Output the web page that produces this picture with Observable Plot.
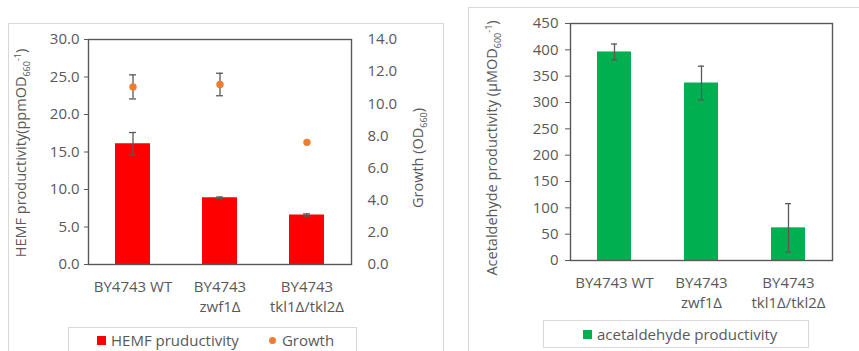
<!DOCTYPE html>
<html><head><meta charset="utf-8">
<script src="https://cdn.jsdelivr.net/npm/d3@7"></script>
<script src="https://cdn.jsdelivr.net/npm/@observablehq/plot@0.6"></script>
<style>
body{margin:0;background:#fff;font-family:"Open Sans",sans-serif;color:#595959;}
#wrap{position:relative;width:859px;height:351px;overflow:hidden;background:#fff;}
.panel{position:absolute;border:1px solid #d9d9d9;box-sizing:border-box;}
.chart{position:absolute;}
.ytitle{position:absolute;transform:translate(-50%,-50%) rotate(-90deg);white-space:nowrap;font-size:14.5px;color:#595959;}
.ytitle sub,.ytitle sup{font-size:9px;}
.legend{position:absolute;border:1px solid #d9d9d9;box-sizing:border-box;font-size:15px;color:#595959;display:flex;align-items:center;}
.sw{display:inline-block;width:9px;height:9px;margin-right:5px;}
.dot{display:inline-block;width:7px;height:7px;border-radius:50%;margin-right:6px;}
</style></head><body>
<div id="wrap">
  <div class="panel" style="left:8px;top:23px;width:436px;height:340px;"></div>
  <div class="panel" style="left:468px;top:7px;width:400px;height:360px;"></div>
  <div id="left" class="chart" style="left:8px;top:23px;"></div>
  <div id="right" class="chart" style="left:468px;top:7px;"></div>
  <div class="ytitle" style="left:22px;top:153px;">HEMF productivity(ppmOD<sub>660</sub><sup>-1</sup>)</div>
  <div class="ytitle" style="left:419px;top:158px;">Growth (OD<sub>660</sub>)</div>
  <div class="ytitle" style="left:493px;top:148px;">Acetaldehyde productivity (µMOD<sub>600</sub><sup>-1</sup>)</div>
  <div class="legend" style="left:68px;top:327px;width:289px;height:40px;align-items:flex-start;padding-top:2px;">
    <span style="margin-left:28px;display:flex;align-items:center;"><span class="sw" style="background:#ff0000"></span>HEMF pruductivity</span>
    <span style="margin-left:30px;display:flex;align-items:center;"><span class="dot" style="background:#ed7d31"></span>Growth</span>
  </div>
  <div class="legend" style="left:543px;top:320px;width:266px;height:28px;">
    <span style="margin-left:39px;display:flex;align-items:center;"><span class="sw" style="background:#00b050"></span>acetaldehyde productivity</span>
  </div>
</div>
<script>
const strains = ["BY4743 WT", "BY4743 zwf1Δ", "BY4743 tkl1Δ/tkl2Δ"];
const strainLabels = ["BY4743 WT", "BY4743\nzwf1Δ", "BY4743\ntkl1Δ/tkl2Δ"];
const hemf = [16.1, 8.9, 6.6];
const hemfErr = [1.5, 0.1, 0.15];
const growth = [11.05, 11.2, 7.6];
const growthErr = [0.75, 0.7, 0];
const acet = [396, 337, 62];
const acetErr = [15, 32, 46];
const hemfTicks = [0, 5, 10, 15, 20, 25, 30];
const growthTicks = [0, 2, 4, 6, 8, 10, 12, 14];
const acetTicks = [0, 50, 100, 150, 200, 250, 300, 350, 400, 450];

const GRAY = "#595959";
const FONT = "'Open Sans', sans-serif";
const FS = 15;
const HEMF_MAX = 30, GROWTH_MAX = 14;
const gScale = HEMF_MAX / GROWTH_MAX;
const lab = d => strainLabels[strains.indexOf(d)];

const leftData = strains.map((s, i) => ({s, v: hemf[i], e: hemfErr[i], g: growth[i] * gScale, ge: growthErr[i] * gScale}));
const rightData = strains.map((s, i) => ({s, v: acet[i], e: acetErr[i]}));

function capInset(width, ml, mr) {
  const step = (width - ml - mr) / 3;
  const bw = step * 0.4;
  return (bw - 7) / 2;
}

const LW = 435, LH = 328, LML = 80, LMR = 92;
const lInset = capInset(LW, LML, LMR);
const left = Plot.plot({
  width: LW, height: LH,
  marginLeft: LML, marginRight: LMR, marginTop: 16, marginBottom: 87,
  style: {fontFamily: FONT, fontSize: FS + "px", color: GRAY, background: "transparent"},
  x: {domain: strains, paddingInner: 0.6, paddingOuter: 0.3, axis: null},
  y: {domain: [0, HEMF_MAX], axis: null},
  marks: [
    Plot.barY(leftData, {x: "s", y: "v", fill: "#ff0000"}),
    Plot.ruleX(leftData, {x: "s", y1: d => d.v - d.e, y2: d => d.v + d.e, stroke: GRAY, strokeWidth: 1.3}),
    Plot.tickY(leftData, {x: "s", y: d => d.v - d.e, stroke: GRAY, strokeWidth: 1.3, insetLeft: lInset, insetRight: lInset}),
    Plot.tickY(leftData, {x: "s", y: d => d.v + d.e, stroke: GRAY, strokeWidth: 1.3, insetLeft: lInset, insetRight: lInset}),
    Plot.ruleX(leftData.filter(d => d.ge > 0), {x: "s", y1: d => d.g - d.ge, y2: d => d.g + d.ge, stroke: GRAY, strokeWidth: 1.3}),
    Plot.tickY(leftData.filter(d => d.ge > 0), {x: "s", y: d => d.g - d.ge, stroke: GRAY, strokeWidth: 1.3, insetLeft: lInset, insetRight: lInset}),
    Plot.tickY(leftData.filter(d => d.ge > 0), {x: "s", y: d => d.g + d.ge, stroke: GRAY, strokeWidth: 1.3, insetLeft: lInset, insetRight: lInset}),
    Plot.dot(leftData, {x: "s", y: "g", r: 3.7, fill: "#ed7d31", stroke: "none"}),
    Plot.frame({stroke: GRAY, strokeWidth: 1.4}),
    Plot.axisY({anchor: "left", ticks: hemfTicks, tickFormat: d => d.toFixed(1), tickSize: 4, tickPadding: 5, label: null, fontSize: FS}),
    Plot.axisY({anchor: "right", ticks: growthTicks.map(v => v * gScale), tickFormat: d => (d / gScale).toFixed(1), tickSize: 0, tickPadding: 16, label: null, fontSize: FS}),
    Plot.axisX({anchor: "bottom", tickFormat: lab, tickSize: 0, tickPadding: 13, label: null, fontSize: FS, lineHeight: 1.35})
  ]
});
document.getElementById("left").appendChild(left);

const RW = 391, RH = 344, RML = 102, RMR = 27;
const rInset = capInset(RW, RML, RMR);
const right = Plot.plot({
  width: RW, height: RH,
  marginLeft: RML, marginRight: RMR, marginTop: 16, marginBottom: 91,
  style: {fontFamily: FONT, fontSize: FS + "px", color: GRAY, background: "transparent"},
  x: {domain: strains, paddingInner: 0.61, paddingOuter: 0.3, axis: null},
  y: {domain: [0, 450], axis: null},
  marks: [
    Plot.barY(rightData, {x: "s", y: "v", fill: "#00b050"}),
    Plot.ruleX(rightData, {x: "s", y1: d => d.v - d.e, y2: d => d.v + d.e, stroke: GRAY, strokeWidth: 1.3}),
    Plot.tickY(rightData, {x: "s", y: d => d.v - d.e, stroke: GRAY, strokeWidth: 1.3, insetLeft: rInset, insetRight: rInset}),
    Plot.tickY(rightData, {x: "s", y: d => d.v + d.e, stroke: GRAY, strokeWidth: 1.3, insetLeft: rInset, insetRight: rInset}),
    Plot.frame({stroke: GRAY, strokeWidth: 1.4}),
    Plot.axisY({anchor: "left", ticks: acetTicks, tickFormat: d => String(d), tickSize: 5, tickPadding: 7, label: null, fontSize: FS}),
    Plot.axisX({anchor: "bottom", tickFormat: lab, tickSize: 0, tickPadding: 13, label: null, fontSize: FS, lineHeight: 1.35})
  ]
});
document.getElementById("right").appendChild(right);
</script>
</body></html>
